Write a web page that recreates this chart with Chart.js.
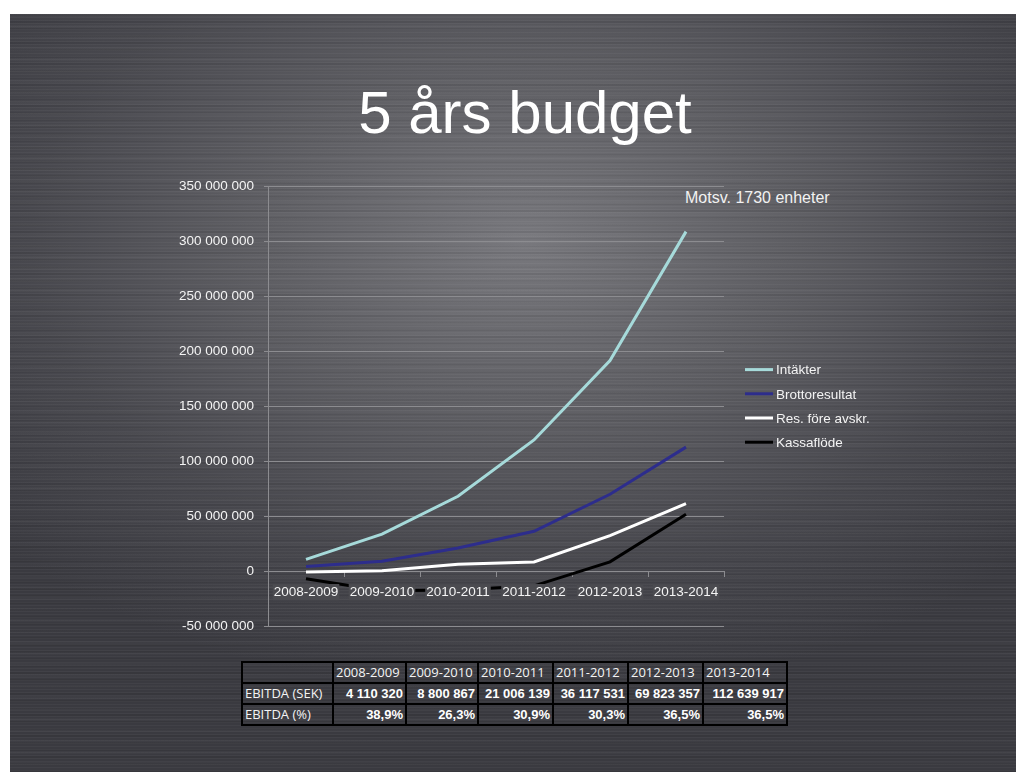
<!DOCTYPE html>
<html>
<head>
<meta charset="utf-8">
<script src="https://cdn.jsdelivr.net/npm/chart.js@4.4.1/dist/chart.umd.min.js"></script>
<style>
  body { margin: 0; width: 1016px; height: 772px; background: #fff; position: relative; overflow: hidden; font-family: "Liberation Sans", Arial, sans-serif; }
  .slide {
    position: absolute; left: 10px; top: 14px; width: 1006px; height: 758px;
    background:
      repeating-linear-gradient(180deg, rgba(255,255,255,0.035) 0 1px, transparent 1px 3px),
      repeating-linear-gradient(180deg, rgba(0,0,0,0.06) 0 2px, transparent 2px 7px),
      repeating-linear-gradient(180deg, rgba(255,255,255,0.02) 0 3px, transparent 3px 11px),
      radial-gradient(ellipse 70% 60% at 51% 30%, #78787d 0%, #606065 35%, #48484e 70%, #3a3a40 100%);
  }
  .title { position: absolute; left: 0; width: 1050px; top: 78px; text-align: center; color: #fff; font-size: 60px; }
  .note { position: absolute; left: 685px; top: 189px; color: #f2f2f2; font-size: 16px; }
  #chart { position: absolute; left: 150px; top: 168px; }
  table { position: absolute; left: 241px; top: 661px; width: 545px; table-layout: fixed; border-collapse: collapse; font-family: "Open Sans", "Noto Sans", sans-serif; font-size: 13px; color: #f4f4f4; }
  td { border: 2px solid #000; height: 19px; padding: 0 2px; white-space: nowrap; overflow: visible; line-height: 19px; }
  td.num { text-align: right; font-family: "Liberation Sans", Arial, sans-serif; font-weight: bold; font-size: 13px; color: #fff; }
</style>
</head>
<body>
<div class="slide"></div>
<div class="title">5 års budget</div>
<div class="note">Motsv. 1730 enheter</div>
<canvas id="chart" width="740" height="480"></canvas>
<table id="tbl"></table>
<script>
// values
const periods = ['2008-2009', '2009-2010', '2010-2011', '2011-2012', '2012-2013', '2013-2014'];
const intakter = [10600000, 33500000, 68000000, 119200000, 191300000, 308600000];
const brottoresultat = [4110320, 8800867, 21006139, 36117531, 69823357, 112639917];
const resForeAvskr = [-1000000, 200000, 6200000, 8300000, 32200000, 61300000];
const kassaflode = [-7100000, -18000000, -17200000, -13500000, 8300000, 51600000];

// table under the chart
const ebitdaSek = ['4 110 320', '8 800 867', '21 006 139', '36 117 531', '69 823 357', '112 639 917'];
const ebitdaPct = ['38,9%', '26,3%', '30,9%', '30,3%', '36,5%', '36,5%'];
const colWidths = [91, 73, 72, 75, 75, 75, 84];

function fmt(v) {
    const s = String(Math.abs(v)).replace(/\B(?=(\d{3})+(?!\d))/g, ' ');
    return (v < 0 ? '-' : '') + s;
}

// build the table
const tbl = document.getElementById('tbl');
const cg = document.createElement('colgroup');
colWidths.forEach(w => {
    const col = document.createElement('col');
    col.style.width = w + 'px';
    cg.appendChild(col);
});
tbl.appendChild(cg);
const rows = [
    { label: '', cells: periods, cls: '' },
    { label: 'EBITDA (SEK)', cells: ebitdaSek, cls: 'num' },
    { label: 'EBITDA (%)', cells: ebitdaPct, cls: 'num' }
];
rows.forEach(r => {
    const tr = document.createElement('tr');
    const th = document.createElement('td');
    th.textContent = r.label;
    tr.appendChild(th);
    r.cells.forEach(c => {
        const td = document.createElement('td');
        td.textContent = c;
        if (r.cls) td.className = r.cls;
        tr.appendChild(td);
    });
    tbl.appendChild(tr);
});

// legend drawn to the right of the plot
const sideLegend = {
    id: 'sideLegend',
    afterDraw(chart) {
        const ctx = chart.ctx;
        const area = chart.chartArea;
        ctx.save();
        ctx.font = '13.5px "Liberation Sans", Arial, sans-serif';
        ctx.textBaseline = 'middle';
        ctx.fillStyle = '#f4f4f4';
        chart.data.datasets.forEach((ds, i) => {
            const y = area.top + 183.5 + i * 24.2;
            ctx.strokeStyle = ds.borderColor;
            ctx.lineWidth = 3;
            ctx.beginPath();
            ctx.moveTo(area.right + 21, y);
            ctx.lineTo(area.right + 49, y);
            ctx.stroke();
            ctx.fillText(ds.label, area.right + 52, y + 1);
        });
        ctx.restore();
    }
};

const gridColor = '#8c8c90';
const font = { family: '"Liberation Sans", Arial, sans-serif', size: 13.5 };

new Chart(document.getElementById('chart').getContext('2d'), {
    type: 'line',
    data: {
        labels: periods,
        datasets: [
            { label: 'Intäkter', data: intakter, borderColor: '#a6dada', borderWidth: 3, pointRadius: 0, tension: 0 },
            { label: 'Brottoresultat', data: brottoresultat, borderColor: '#2d2d8c', borderWidth: 3, pointRadius: 0, tension: 0 },
            { label: 'Res. före avskr.', data: resForeAvskr, borderColor: '#ffffff', borderWidth: 3, pointRadius: 0, tension: 0 },
            { label: 'Kassaflöde', data: kassaflode, borderColor: '#000000', borderWidth: 3, pointRadius: 0, tension: 0 }
        ]
    },
    options: {
        responsive: false,
        animation: false,
        layout: { padding: { top: 12, bottom: 22, right: 166, left: 0 } },
        plugins: { legend: { display: false }, tooltip: { enabled: false } },
        scales: {
            x: {
                position: { y: 0 },
                offset: true,
                grid: { offset: true, drawOnChartArea: false, tickLength: 5, color: gridColor },
                border: { color: gridColor },
                ticks: {
                    z: 1,
                    color: '#f4f4f4', font: font, padding: 8, maxRotation: 0, autoSkip: false,
                    showLabelBackdrop: true, backdropColor: '#4b4b50', backdropPadding: { top: 0, bottom: 0, left: 1, right: 1 }
                }
            },
            y: {
                min: -50000000,
                max: 350000000,
                afterFit: (scale) => { scale.width = 118; },
                grid: { color: gridColor, tickLength: 4 },
                border: { color: gridColor },
                ticks: { stepSize: 50000000, color: '#f4f4f4', font: font, padding: 10, callback: v => fmt(v) }
            }
        }
    },
    plugins: [sideLegend]
});
</script>
</body>
</html>
